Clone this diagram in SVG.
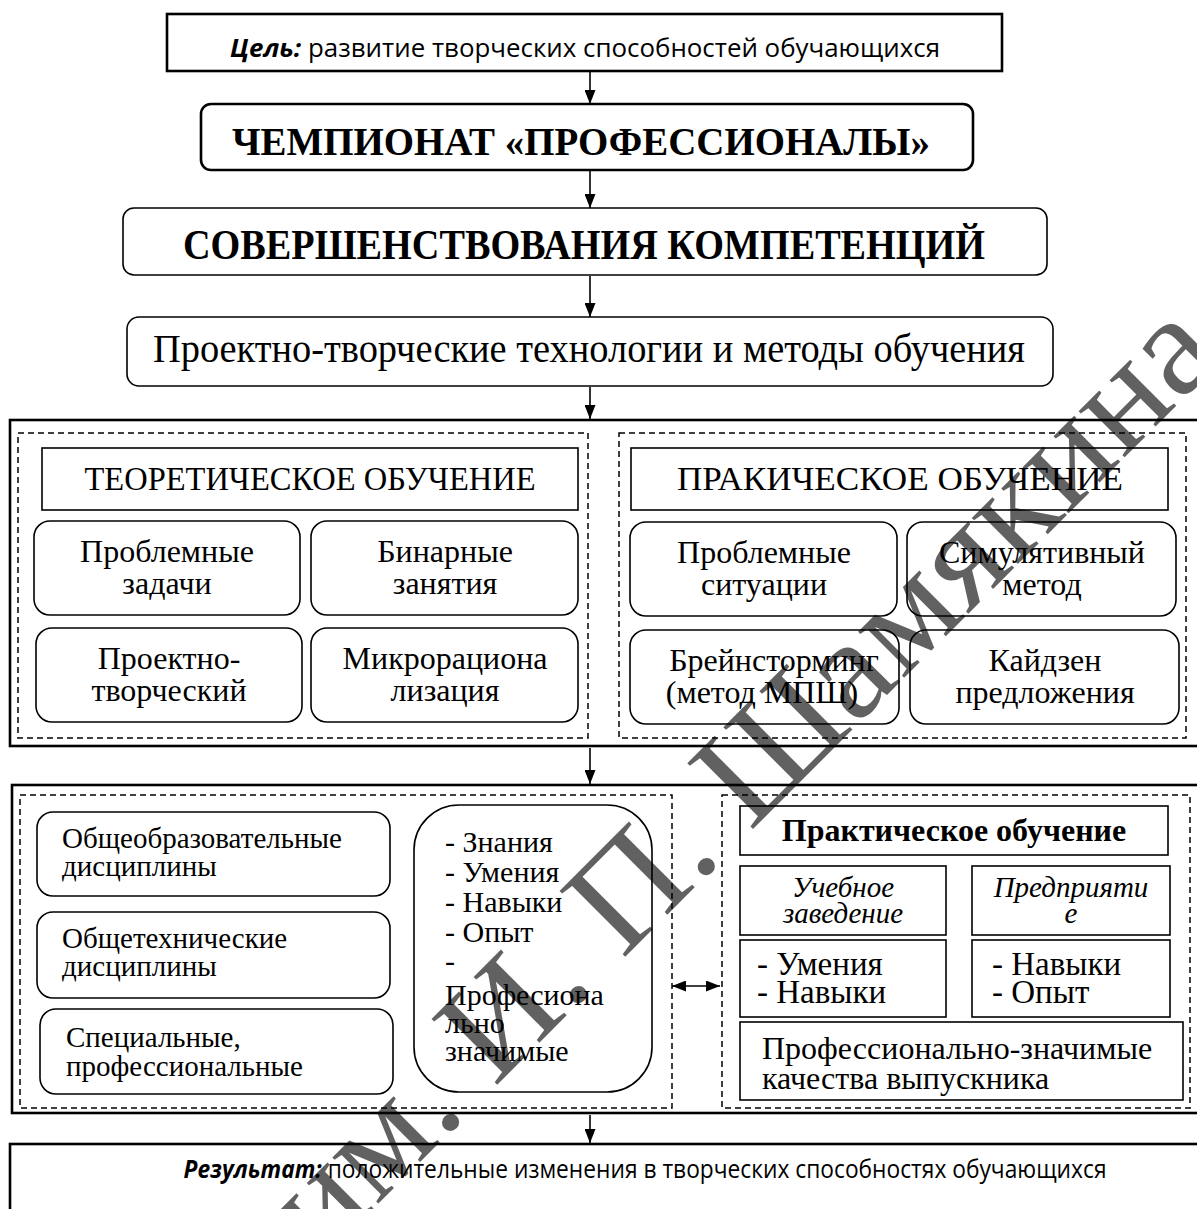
<svg xmlns="http://www.w3.org/2000/svg" width="1197" height="1209" viewBox="0 0 1197 1209">
<defs>
<marker id="ah" markerWidth="14" markerHeight="11" refX="14" refY="5.5" orient="auto" markerUnits="userSpaceOnUse"><path d="M0,0 L14,5.5 L0,11 z" fill="#000"/></marker>
<marker id="ah2" markerWidth="14" markerHeight="11" refX="14" refY="5.5" orient="auto-start-reverse" markerUnits="userSpaceOnUse"><path d="M0,0 L14,5.5 L0,11 z" fill="#000"/></marker>
</defs>
<style>
.b{fill:#fff;stroke:#000;stroke-width:1.6}
.bt{fill:#fff;stroke:#000;stroke-width:2.6}
.d{fill:none;stroke:#000;stroke-width:1.5;stroke-dasharray:6 4}
.s{font-family:"Liberation Serif","Times New Roman",serif;fill:#000}
.n{font-family:"Open Sans","Liberation Sans",sans-serif;fill:#000}
.c{text-anchor:middle}
.con{stroke:#000;stroke-width:1.6;fill:none}
</style>
<rect width="1197" height="1209" fill="#fff"/>

<g id="goal"><rect class="bt" x="167" y="14" width="835" height="57"/>
<text class="n c" x="585" y="57" font-size="25" textLength="710" lengthAdjust="spacingAndGlyphs"><tspan font-weight="bold" font-style="italic">Цель:</tspan> развитие творческих способностей обучающихся</text></g>

<g id="champ"><rect class="bt" x="201" y="104" width="772" height="66" rx="10"/>
<text class="s c" x="581" y="155" font-size="41" font-weight="bold" textLength="698" lengthAdjust="spacingAndGlyphs">ЧЕМПИОНАТ «ПРОФЕССИОНАЛЫ»</text></g>

<g id="sov"><rect class="b" x="123" y="208" width="924" height="67" rx="11"/>
<text class="s c" x="584" y="259" font-size="43" font-weight="bold" textLength="802" lengthAdjust="spacingAndGlyphs">СОВЕРШЕНСТВОВАНИЯ КОМПЕТЕНЦИЙ</text></g>

<g id="proj"><rect class="b" x="127" y="317" width="926" height="69" rx="12"/>
<text class="s c" x="589" y="362" font-size="40" textLength="872" lengthAdjust="spacingAndGlyphs">Проектно-творческие технологии и методы обучения</text></g>

<g id="block1"><rect class="bt" x="10" y="420" width="1200" height="326"/>
<rect class="d" x="18" y="433" width="570" height="305"/>
<rect class="d" x="619" y="433" width="567" height="305"/></g>

<g id="theory"><rect class="b" x="42" y="448" width="536" height="62"/>
<text class="s c" x="310" y="490" font-size="33" textLength="451" lengthAdjust="spacingAndGlyphs">ТЕОРЕТИЧЕСКОЕ ОБУЧЕНИЕ</text></g>
<g id="t1"><rect class="b" x="34" y="521" width="266" height="94" rx="16"/>
<text class="s c" font-size="32"><tspan x="167" y="562">Проблемные</tspan><tspan x="167" y="594">задачи</tspan></text></g>
<g id="t2"><rect class="b" x="311" y="521" width="267" height="94" rx="16"/>
<text class="s c" font-size="32"><tspan x="445" y="562">Бинарные</tspan><tspan x="445" y="594">занятия</tspan></text></g>
<g id="t3"><rect class="b" x="36" y="628" width="266" height="94" rx="16"/>
<text class="s c" font-size="32"><tspan x="169" y="669">Проектно-</tspan><tspan x="169" y="701">творческий</tspan></text></g>
<g id="t4"><rect class="b" x="311" y="628" width="267" height="94" rx="16"/>
<text class="s c" font-size="32"><tspan x="445" y="669">Микрорациона</tspan><tspan x="445" y="701">лизация</tspan></text></g>

<g id="practice"><rect class="b" x="631" y="448" width="537" height="62"/>
<text class="s c" x="900" y="490" font-size="33" textLength="446" lengthAdjust="spacingAndGlyphs">ПРАКИЧЕСКОЕ ОБУЧЕНИЕ</text></g>
<g id="p1"><rect class="b" x="630" y="522" width="267" height="94" rx="16"/>
<text class="s c" font-size="32"><tspan x="764" y="563">Проблемные</tspan><tspan x="764" y="595">ситуации</tspan></text></g>
<g id="p2"><rect class="b" x="907" y="522" width="269" height="94" rx="16"/>
<text class="s c" font-size="32"><tspan x="1042" y="563">Симулятивный</tspan><tspan x="1042" y="595">метод</tspan></text></g>
<g id="p3"><rect class="b" x="630" y="630" width="269" height="94" rx="16"/>
<text class="s c" font-size="32"><tspan x="774" y="671">Брейнсторминг</tspan><tspan x="762" y="703">(метод МПШ)</tspan></text></g>
<g id="p4"><rect class="b" x="910" y="630" width="269" height="94" rx="16"/>
<text class="s c" font-size="32"><tspan x="1045" y="671">Кайдзен</tspan><tspan x="1045" y="703">предложения</tspan></text></g>

<g id="block2"><rect class="bt" x="12" y="785" width="1200" height="328"/>
<rect class="d" x="20" y="795" width="652" height="313"/>
<rect class="d" x="722" y="795" width="468" height="313"/></g>

<g id="d1"><rect class="b" x="37" y="812" width="353" height="84" rx="16"/>
<text class="s" font-size="29"><tspan x="62" y="848">Общеобразовательные</tspan><tspan x="62" y="876">дисциплины</tspan></text></g>
<g id="d2"><rect class="b" x="37" y="912" width="353" height="86" rx="16"/>
<text class="s" font-size="29"><tspan x="62" y="948">Общетехнические</tspan><tspan x="62" y="976">дисциплины</tspan></text></g>
<g id="d3"><rect class="b" x="40" y="1009" width="353" height="85" rx="16"/>
<text class="s" font-size="29"><tspan x="66" y="1047">Специальные,</tspan><tspan x="66" y="1076">профессиональные</tspan></text></g>
<g id="skills"><rect class="b" x="414" y="805" width="238" height="287" rx="45"/>
<text class="s" font-size="30"><tspan x="445" y="852">- Знания</tspan><tspan x="445" y="882">- Умения</tspan><tspan x="445" y="912">- Навыки</tspan><tspan x="445" y="942">- Опыт</tspan><tspan x="445" y="971">-</tspan><tspan x="445" y="1005">Професиона</tspan><tspan x="445" y="1033">льно</tspan><tspan x="445" y="1061">значимые</tspan></text></g>

<g id="pr-head"><rect class="b" x="740" y="806" width="428" height="49"/>
<text class="s c" x="954" y="841" font-size="32" font-weight="bold">Практическое обучение</text></g>
<g id="ue"><rect class="b" x="740" y="866" width="206" height="69"/>
<text class="s c" font-size="29" font-style="italic"><tspan x="843" y="897">Учебное</tspan><tspan x="843" y="923">заведение</tspan></text></g>
<g id="pred"><rect class="b" x="972" y="866" width="198" height="69"/>
<text class="s c" font-size="29" font-style="italic"><tspan x="1071" y="897">Предприяти</tspan><tspan x="1071" y="923">е</tspan></text></g>
<g id="ue-sk"><rect class="b" x="740" y="940" width="206" height="77"/>
<text class="s" font-size="33"><tspan x="757" y="975">- Умения</tspan><tspan x="757" y="1003">- Навыки</tspan></text></g>
<g id="pred-sk"><rect class="b" x="972" y="940" width="198" height="77"/>
<text class="s" font-size="33"><tspan x="992" y="975">- Навыки</tspan><tspan x="992" y="1003">- Опыт</tspan></text></g>
<g id="qual"><rect class="b" x="740" y="1022" width="443" height="78"/>
<text class="s" font-size="32"><tspan x="762" y="1059">Профессионально-значимые</tspan><tspan x="762" y="1089">качества выпускника</tspan></text></g>

<g id="result"><rect class="bt" x="10" y="1144" width="1200" height="80"/>
<text class="n c" x="645" y="1178" font-size="25" textLength="923" lengthAdjust="spacingAndGlyphs"><tspan font-weight="bold" font-style="italic">Результат:</tspan> положительные изменения в творческих способностях обучающихся</text></g>

<g id="connectors">
<line class="con" x1="590" y1="72" x2="590" y2="104" marker-end="url(#ah)"/>
<line class="con" x1="590" y1="171" x2="590" y2="208" marker-end="url(#ah)"/>
<line class="con" x1="590" y1="276" x2="590" y2="317" marker-end="url(#ah)"/>
<line class="con" x1="590" y1="387" x2="590" y2="419" marker-end="url(#ah)"/>
<line class="con" x1="590" y1="748" x2="590" y2="784" marker-end="url(#ah)"/>
<line class="con" x1="590" y1="1115" x2="590" y2="1143" marker-end="url(#ah)"/>
<line class="con" x1="672" y1="986" x2="720" y2="986" marker-start="url(#ah2)" marker-end="url(#ah2)"/>
</g>

<text class="s" x="320" y="1262" font-size="142" fill-opacity="0.62" transform="rotate(-45 320 1262)" textLength="1280" lengthAdjust="spacingAndGlyphs">им. И. П. Шамякина</text>
</svg>
